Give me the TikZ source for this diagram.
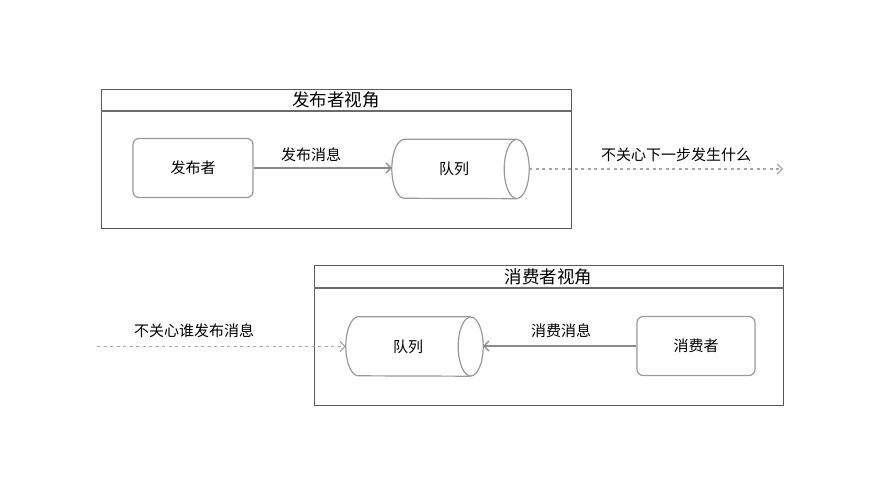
\documentclass[tikz,border=0pt]{standalone}
\usepackage{fontspec}
\setmainfont{Noto Sans CJK SC}
\usetikzlibrary{arrows.meta}
\definecolor{framec}{HTML}{5A5A5A}
\definecolor{boxc}{HTML}{9A9A9A}
\definecolor{linec}{HTML}{8A8A8A}
\definecolor{dotc}{HTML}{A8A8A8}
\newcommand{\drawqueue}[1]{%
  \draw[queueline] ([xshift=-12.5pt]#1.north east) -- ([xshift=12.5pt]#1.north west)
    arc[start angle=90,end angle=270,x radius=12.5pt,y radius=29.5pt]
    -- ([xshift=-12.5pt]#1.south east);
  \draw[queueline] ([xshift=-12.5pt]#1.east) ellipse[x radius=12.5pt,y radius=29.5pt];}
\begin{document}
\begin{tikzpicture}[x=1pt,y=-1pt,
  framebox/.style={draw=framec,line width=1pt,inner sep=0pt},
  sepline/.style={draw=framec!90,line width=2pt},
  actor/.style={draw=boxc,line width=1.2pt,rounded corners=6pt,minimum width=120pt,minimum height=59pt,inner sep=0pt,font=\fontsize{15}{17}\selectfont},
  queue/.style={minimum width=137pt,minimum height=59pt,inner sep=0pt},
  queueline/.style={draw=boxc,line width=1.2pt},
  qtext/.style={font=\fontsize{15}{17}\selectfont,inner sep=0pt},
  titletext/.style={font=\fontsize{17.5}{19}\selectfont,inner sep=0pt},
  lbl/.style={font=\fontsize{15}{17}\selectfont,inner sep=0pt},
  flow/.style={draw=linec,line width=1.2pt,-{Straight Barb[length=5pt,width=10pt,line width=1.2pt]}},
  dotflow/.style={draw=dotc,line width=1.2pt,dash pattern=on 3pt off 3.5pt,-{Straight Barb[length=5pt,width=10pt,line width=1.2pt]}}
]
\useasboundingbox (0,0) rectangle (887,482);
\fill[white] (0,0) rectangle (887,482);
% top frame
\node[framebox,minimum width=470pt,minimum height=139pt] (f1) at (336,158.5) {};
\coordinate (s1l) at (101,111);
\coordinate (s1r) at (571,111);
\draw[sepline] (s1l) -- (s1r);
\node[titletext] (t1) at (336,100) {发布者视角};
\node[actor] (pub) at (193,168) {发布者};
\node[queue] (q1) at (460.5,169) {};
\drawqueue{q1}
\node[qtext] (q1t) at (454,169) {队列};
\draw[flow] (pub.east) -- (pub.east -| q1.west);
\node[lbl] (l1) at (311,155) {发布消息};
\coordinate (end1) at (783,169);
\draw[dotflow] (q1.east) -- (end1);
\node[lbl] (l2) at (676,155) {不关心下一步发生什么};
% bottom frame
\node[framebox,minimum width=469pt,minimum height=140pt] (f2) at (548.5,335) {};
\coordinate (s2l) at (314,288);
\coordinate (s2r) at (783,288);
\draw[sepline] (s2l) -- (s2r);
\node[titletext] (t2) at (548.5,277) {消费者视角};
\node[queue] (q2) at (414.5,346.5) {};
\drawqueue{q2}
\node[qtext] (q2t) at (408,346.5) {队列};
\node[actor,minimum width=118pt] (con) at (696,346) {消费者};
\draw[flow] (con.west) -- (con.west -| q2.east);
\node[lbl] (l3) at (561,331) {消费消息};
\coordinate (start2) at (97,346.5);
\draw[dotflow] (start2) -- (q2.west);
\node[lbl] (l4) at (194,331) {不关心谁发布消息};
\end{tikzpicture}
\end{document}
